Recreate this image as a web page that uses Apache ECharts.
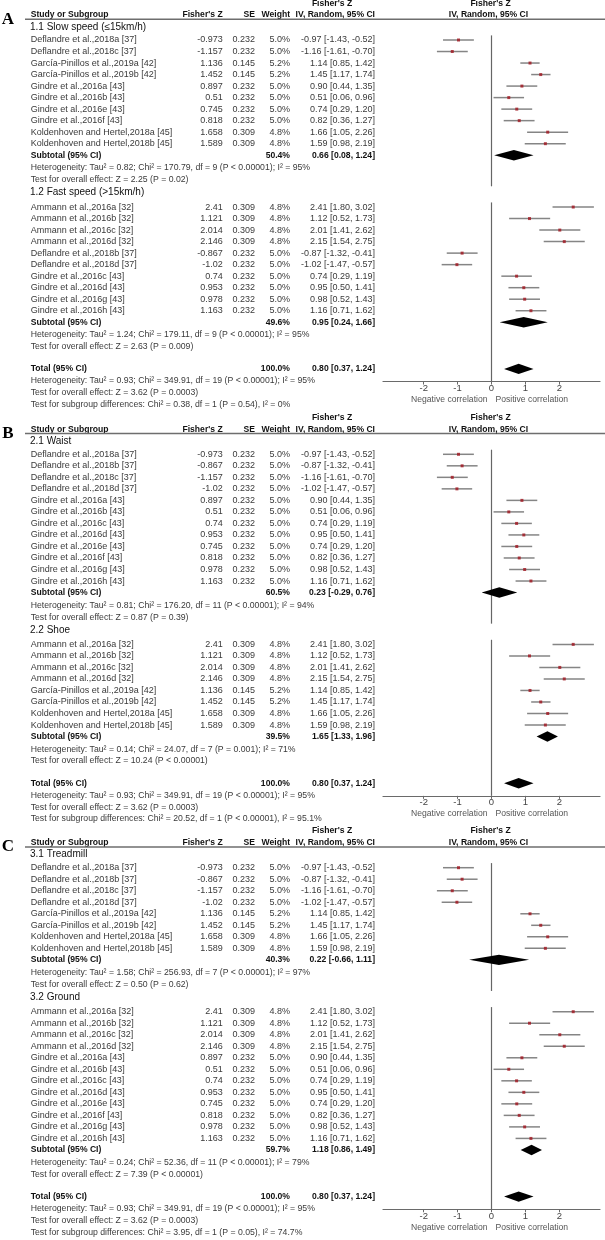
<!DOCTYPE html>
<html><head><meta charset="utf-8">
<script src="https://cdn.jsdelivr.net/npm/echarts@6/dist/echarts.min.js"></script>
<style>html,body{margin:0;padding:0;background:#fff}#c{width:605px;height:1240px}</style>
</head><body><div id="c"></div>
<script>
// ---------------- DATA ----------------
const studyNames = [
  'Ammann et al.,2016a [32]','Ammann et al.,2016b [32]','Ammann et al.,2016c [32]','Ammann et al.,2016d [32]',
  'Deflandre et al.,2018a [37]','Deflandre et al.,2018b [37]','Deflandre et al.,2018c [37]','Deflandre et al.,2018d [37]',
  'García-Pinillos et al.,2019a [42]','García-Pinillos et al.,2019b [42]',
  'Gindre et al.,2016a [43]','Gindre et al.,2016b [43]','Gindre et al.,2016c [43]','Gindre et al.,2016d [43]',
  'Gindre et al.,2016e [43]','Gindre et al.,2016f [43]','Gindre et al.,2016g [43]','Gindre et al.,2016h [43]',
  'Koldenhoven and Hertel,2018a [45]','Koldenhoven and Hertel,2018b [45]'
];
const fisherZ = ['2.41','1.121','2.014','2.146','-0.973','-0.867','-1.157','-1.02','1.136','1.452',
  '0.897','0.51','0.74','0.953','0.745','0.818','0.978','1.163','1.658','1.589'];
const seValues = [0.309,0.309,0.309,0.309,0.232,0.232,0.232,0.232,0.145,0.145,
  0.232,0.232,0.232,0.232,0.232,0.232,0.232,0.232,0.309,0.309];
const weightPct = [4.8,4.8,4.8,4.8,5.0,5.0,5.0,5.0,5.2,5.2,5.0,5.0,5.0,5.0,5.0,5.0,5.0,5.0,4.8,4.8];
const ciLow = [1.80,0.52,1.41,1.54,-1.43,-1.32,-1.61,-1.47,0.85,1.17,0.44,0.06,0.29,0.50,0.29,0.36,0.52,0.71,1.05,0.98];
const ciHigh = [3.02,1.73,2.62,2.75,-0.52,-0.41,-0.70,-0.57,1.42,1.74,1.35,0.96,1.19,1.41,1.20,1.27,1.43,1.62,2.26,2.19];

const panelLabels = ['A','B','C'];
const subgroupTitles = [
  ['1.1 Slow speed (≤15km/h)','1.2 Fast speed (>15km/h)'],
  ['2.1 Waist','2.2 Shoe'],
  ['3.1 Treadmill','3.2 Ground']
];
const subgroupMembers = [
  [[4,6,8,9,10,11,14,15,18,19],[0,1,2,3,5,7,12,13,16,17]],
  [[4,5,6,7,10,11,12,13,14,15,16,17],[0,1,2,3,8,9,18,19]],
  [[4,5,6,7,8,9,18,19],[0,1,2,3,10,11,12,13,14,15,16,17]]
];
const subtotalWeight = [[50.4,49.6],[60.5,39.5],[40.3,59.7]];
const subtotalEst = [[0.66,0.95],[0.23,1.65],[0.22,1.18]];
const subtotalLow = [[0.08,0.24],[-0.29,1.33],[-0.66,0.86]];
const subtotalHigh = [[1.24,1.66],[0.76,1.96],[1.11,1.49]];
const subgroupHetero = [
  ['Heterogeneity: Tau² = 0.82; Chi² = 170.79, df = 9 (P < 0.00001); I² = 95%',
   'Heterogeneity: Tau² = 1.24; Chi² = 179.11, df = 9 (P < 0.00001); I² = 95%'],
  ['Heterogeneity: Tau² = 0.81; Chi² = 176.20, df = 11 (P < 0.00001); I² = 94%',
   'Heterogeneity: Tau² = 0.14; Chi² = 24.07, df = 7 (P = 0.001); I² = 71%'],
  ['Heterogeneity: Tau² = 1.58; Chi² = 256.93, df = 7 (P < 0.00001); I² = 97%',
   'Heterogeneity: Tau² = 0.24; Chi² = 52.36, df = 11 (P < 0.00001); I² = 79%']
];
const subgroupEffect = [
  ['Test for overall effect: Z = 2.25 (P = 0.02)','Test for overall effect: Z = 2.63 (P = 0.009)'],
  ['Test for overall effect: Z = 0.87 (P = 0.39)','Test for overall effect: Z = 10.24 (P < 0.00001)'],
  ['Test for overall effect: Z = 0.50 (P = 0.62)','Test for overall effect: Z = 7.39 (P < 0.00001)']
];
const totalWeight = 100.0;
const totalEst = 0.80, totalLow = 0.37, totalHigh = 1.24;
const totalHetero = 'Heterogeneity: Tau² = 0.93; Chi² = 349.91, df = 19 (P < 0.00001); I² = 95%';
const totalEffect = 'Test for overall effect: Z = 3.62 (P = 0.0003)';
const subgroupDiff = [
  'Test for subgroup differences: Chi² = 0.38, df = 1 (P = 0.54), I² = 0%',
  'Test for subgroup differences: Chi² = 20.52, df = 1 (P < 0.00001), I² = 95.1%',
  'Test for subgroup differences: Chi² = 3.95, df = 1 (P = 0.05), I² = 74.7%'
];
const xTicks = [-2,-1,0,1,2];

// ---------------- LAYOUT ----------------
const FONT = '"Liberation Sans", Arial, sans-serif';
const UNIT = 11.52;
const panelFirstY = [40, 454.3, 867.7];
const COL = {name:30.7, z:222.7, se:255, w:290, ci:375, topHead:332, ruleL:25, ruleR:605, label:8};
const Y_MIN = -3.9;
const fmtCI = (e,l,h) => e.toFixed(2)+' ['+l.toFixed(2)+', '+h.toFixed(2)+']';

function layout(pi){
  const n1 = subgroupMembers[pi][0].length, n2 = subgroupMembers[pi][1].length;
  const L = {fisherHead:-3.2, colHead:-2.17, rule:-1.8, heading1:-1.15};
  L.s1 = 0; L.sub1 = n1; L.het1 = n1+1.1; L.test1 = n1+2.15; L.heading2 = n1+3.25;
  L.s2 = n1+4.5; L.sub2 = L.s2+n2; L.het2 = L.sub2+1.1; L.test2 = L.sub2+2.1;
  L.total = L.sub2+4.05; L.het3 = L.total+1.05; L.test3 = L.total+2.1; L.diff = L.total+3.1;
  L.axis = L.total+1.1;
  L.zero = [[-0.4, L.test1+0.55],[L.s2-0.4, L.axis]];
  return L;
}

const grids=[], xAxes=[], yAxes=[], series=[];
panelLabels.forEach((lab, pi) => {
  const L = layout(pi);
  const top = panelFirstY[pi] + Y_MIN*UNIT;
  const height = (L.axis - Y_MIN)*UNIT;
  const gT = grids.length, gP = gT+1;
  grids.push({left:0, width:605, top, height, containLabel:false, outerBoundsMode:'none'});
  grids.push({left:383, width:217, top, height, containLabel:false, outerBoundsMode:'none'});
  xAxes.push({gridIndex:gT, type:'value', min:0, max:605, show:false});
  xAxes.push({gridIndex:gP, type:'value', min:-3.2, max:3.2, position:'bottom',
    axisLine:{show:true, onZero:false, lineStyle:{color:'#6a6a6a', width:1.2}},
    axisTick:{show:true, customValues:xTicks, length:3, lineStyle:{color:'#6a6a6a'}},
    axisLabel:{show:true, customValues:xTicks, margin:2, fontSize:9.5, color:'#444', fontFamily:FONT,
      formatter:v=>String(v)},
    splitLine:{show:false}});
  yAxes.push({gridIndex:gT, type:'value', min:Y_MIN, max:L.axis, inverse:true, show:false});
  yAxes.push({gridIndex:gP, type:'value', min:Y_MIN, max:L.axis, inverse:true, show:false});

  // ---- table rows ----
  const rows = [];
  const B = 'bold 8.6px '+FONT, R = '9px '+FONT, S = '8.7px '+FONT, H = '10px '+FONT;
  rows.push({y:L.fisherHead, cells:[{x:COL.topHead,a:'center',t:"Fisher's Z",f:B,c:'#111'}]});
  rows.push({y:L.colHead, cells:[
    {x:COL.name,a:'left',t:'Study or Subgroup',f:B,c:'#111'},
    {x:COL.z,a:'right',t:"Fisher's Z",f:B,c:'#111'},
    {x:COL.se,a:'right',t:'SE',f:B,c:'#111'},
    {x:COL.w,a:'right',t:'Weight',f:B,c:'#111'},
    {x:COL.ci,a:'right',t:'IV, Random, 95% CI',f:B,c:'#111'}]});
  rows.push({y:L.rule, rule:true, cells:[{x:COL.label,a:'center',t:lab,f:'bold 17px "Liberation Serif", "Times New Roman", serif',c:'#000'}]});
  [0,1].forEach(g => {
    const start = g===0 ? L.s1 : L.s2;
    rows.push({y: g===0?L.heading1:L.heading2, cells:[{x:30,a:'left',t:subgroupTitles[pi][g],f:H,c:'#111'}]});
    subgroupMembers[pi][g].forEach((s,i) => {
      rows.push({y:start+i, cells:[
        {x:COL.name,a:'left',t:studyNames[s],f:R,c:'#3a3a3a'},
        {x:COL.z,a:'right',t:fisherZ[s],f:R,c:'#3a3a3a'},
        {x:COL.se,a:'right',t:seValues[s].toFixed(3),f:R,c:'#3a3a3a'},
        {x:COL.w,a:'right',t:weightPct[s].toFixed(1)+'%',f:R,c:'#3a3a3a'},
        {x:COL.ci,a:'right',t:fmtCI(parseFloat(fisherZ[s]),ciLow[s],ciHigh[s]),f:R,c:'#3a3a3a'}]});
    });
    const sub = g===0?L.sub1:L.sub2;
    rows.push({y:sub, cells:[
      {x:COL.name,a:'left',t:'Subtotal (95% CI)',f:B,c:'#111'},
      {x:COL.w,a:'right',t:subtotalWeight[pi][g].toFixed(1)+'%',f:B,c:'#111'},
      {x:COL.ci,a:'right',t:fmtCI(subtotalEst[pi][g],subtotalLow[pi][g],subtotalHigh[pi][g]),f:B,c:'#111'}]});
    rows.push({y:g===0?L.het1:L.het2, cells:[{x:COL.name,a:'left',t:subgroupHetero[pi][g],f:S,c:'#3a3a3a'}]});
    rows.push({y:g===0?L.test1:L.test2, cells:[{x:COL.name,a:'left',t:subgroupEffect[pi][g],f:S,c:'#3a3a3a'}]});
  });
  rows.push({y:L.total, cells:[
    {x:COL.name,a:'left',t:'Total (95% CI)',f:B,c:'#111'},
    {x:COL.w,a:'right',t:totalWeight.toFixed(1)+'%',f:B,c:'#111'},
    {x:COL.ci,a:'right',t:fmtCI(totalEst,totalLow,totalHigh),f:B,c:'#111'}]});
  rows.push({y:L.het3, cells:[{x:COL.name,a:'left',t:totalHetero,f:S,c:'#3a3a3a'}]});
  rows.push({y:L.test3, cells:[{x:COL.name,a:'left',t:totalEffect,f:S,c:'#3a3a3a'}]});
  rows.push({y:L.diff, cells:[{x:COL.name,a:'left',t:subgroupDiff[pi],f:S,c:'#3a3a3a'}]});

  series.push({type:'custom', xAxisIndex:gT, yAxisIndex:gT, clip:false, silent:true,
    data: rows.map(r=>[0,r.y]), encode:{x:0,y:1},
    renderItem:(params, api) => {
      const r = rows[params.dataIndex];
      const y = api.coord([0, r.y])[1];
      const ch = r.cells.map(c => ({type:'text', x:api.coord([c.x,0])[0], y,
        style:{text:c.t, font:c.f, fill:c.c, align:c.a, verticalAlign:'middle'}}));
      if (r.rule) ch.push({type:'line', shape:{x1:api.coord([COL.ruleL,0])[0], y1:y, x2:api.coord([COL.ruleR,0])[0], y2:y},
        style:{stroke:'#6e6e6e', lineWidth:1.4}});
      return {type:'group', children:ch};
    }});

  // ---- plot: zero line segments ----
  series.push({type:'custom', xAxisIndex:gP, yAxisIndex:gP, clip:false, silent:true,
    data: L.zero.map(z=>[0,z[0],z[1]]), encode:{x:0,y:[1,2]},
    renderItem:(params, api) => {
      const a = api.coord([api.value(0), api.value(1)]), b = api.coord([api.value(0), api.value(2)]);
      return {type:'line', shape:{x1:a[0],y1:a[1],x2:b[0],y2:b[1]}, style:{stroke:'#666', lineWidth:1.2}};
    }});

  // ---- plot: whiskers ----
  const studyRows = [];
  [0,1].forEach(g => {
    const start = g===0 ? L.s1 : L.s2;
    subgroupMembers[pi][g].forEach((s,i) => studyRows.push({s, y:start+i}));
  });
  series.push({type:'custom', xAxisIndex:gP, yAxisIndex:gP, clip:false, silent:true,
    data: studyRows.map(r=>[ciLow[r.s], ciHigh[r.s], r.y]), encode:{x:[0,1],y:2},
    renderItem:(params, api) => {
      const a = api.coord([api.value(0), api.value(2)]), b = api.coord([api.value(1), api.value(2)]);
      return {type:'line', shape:{x1:a[0],y1:a[1],x2:b[0],y2:b[1]}, style:{stroke:'#858585', lineWidth:1.5}};
    }});
  // ---- plot: point estimates ----
  series.push({type:'scatter', xAxisIndex:gP, yAxisIndex:gP, silent:true, symbol:'rect', symbolSize:3,
    itemStyle:{color:'#a0141e'},
    data: studyRows.map(r=>[parseFloat(fisherZ[r.s]), r.y])});
  // ---- plot: diamonds ----
  const dia = [
    [subtotalLow[pi][0], subtotalEst[pi][0], subtotalHigh[pi][0], L.sub1],
    [subtotalLow[pi][1], subtotalEst[pi][1], subtotalHigh[pi][1], L.sub2],
    [totalLow, totalEst, totalHigh, L.total]
  ];
  series.push({type:'custom', xAxisIndex:gP, yAxisIndex:gP, clip:false, silent:true,
    data: dia, encode:{x:[0,1,2], y:3},
    renderItem:(params, api) => {
      const yv = api.value(3);
      const l = api.coord([api.value(0), yv]), m = api.coord([api.value(1), yv]), h = api.coord([api.value(2), yv]);
      const hh = 5.2;
      return {type:'polygon', shape:{points:[[l[0],l[1]],[m[0],m[1]-hh],[h[0],h[1]],[m[0],m[1]+hh]]}, style:{fill:'#000'}};
    }});
  // ---- plot: header and favour labels ----
  const plotText = [
    {x:0, y:L.fisherHead, t:"Fisher's Z", a:'center', dx:-1, dy:0, f:B},
    {x:0, y:L.colHead, t:'IV, Random, 95% CI', a:'center', dx:-3, dy:0, f:B},
    {x:0, y:L.axis, t:'Negative correlation', a:'right', dx:-4, dy:18, f:'8.6px '+FONT},
    {x:0, y:L.axis, t:'Positive correlation', a:'left', dx:4, dy:18, f:'8.6px '+FONT}
  ];
  series.push({type:'custom', xAxisIndex:gP, yAxisIndex:gP, clip:false, silent:true,
    data: plotText.map(p=>[p.x,p.y]), encode:{x:0,y:1},
    renderItem:(params, api) => {
      const p = plotText[params.dataIndex];
      const pt = api.coord([p.x, p.y]);
      return {type:'text', x:pt[0]+p.dx, y:pt[1]+p.dy,
        style:{text:p.t, font:p.f, fill: p.f===B?'#111':'#555', align:p.a, verticalAlign:'middle'}};
    }});
});

const chart = echarts.init(document.getElementById('c'), null, {renderer:'canvas'});
chart.setOption({backgroundColor:'#fff', animation:false, grid:grids, xAxis:xAxes, yAxis:yAxes, series});
</script></body></html>
